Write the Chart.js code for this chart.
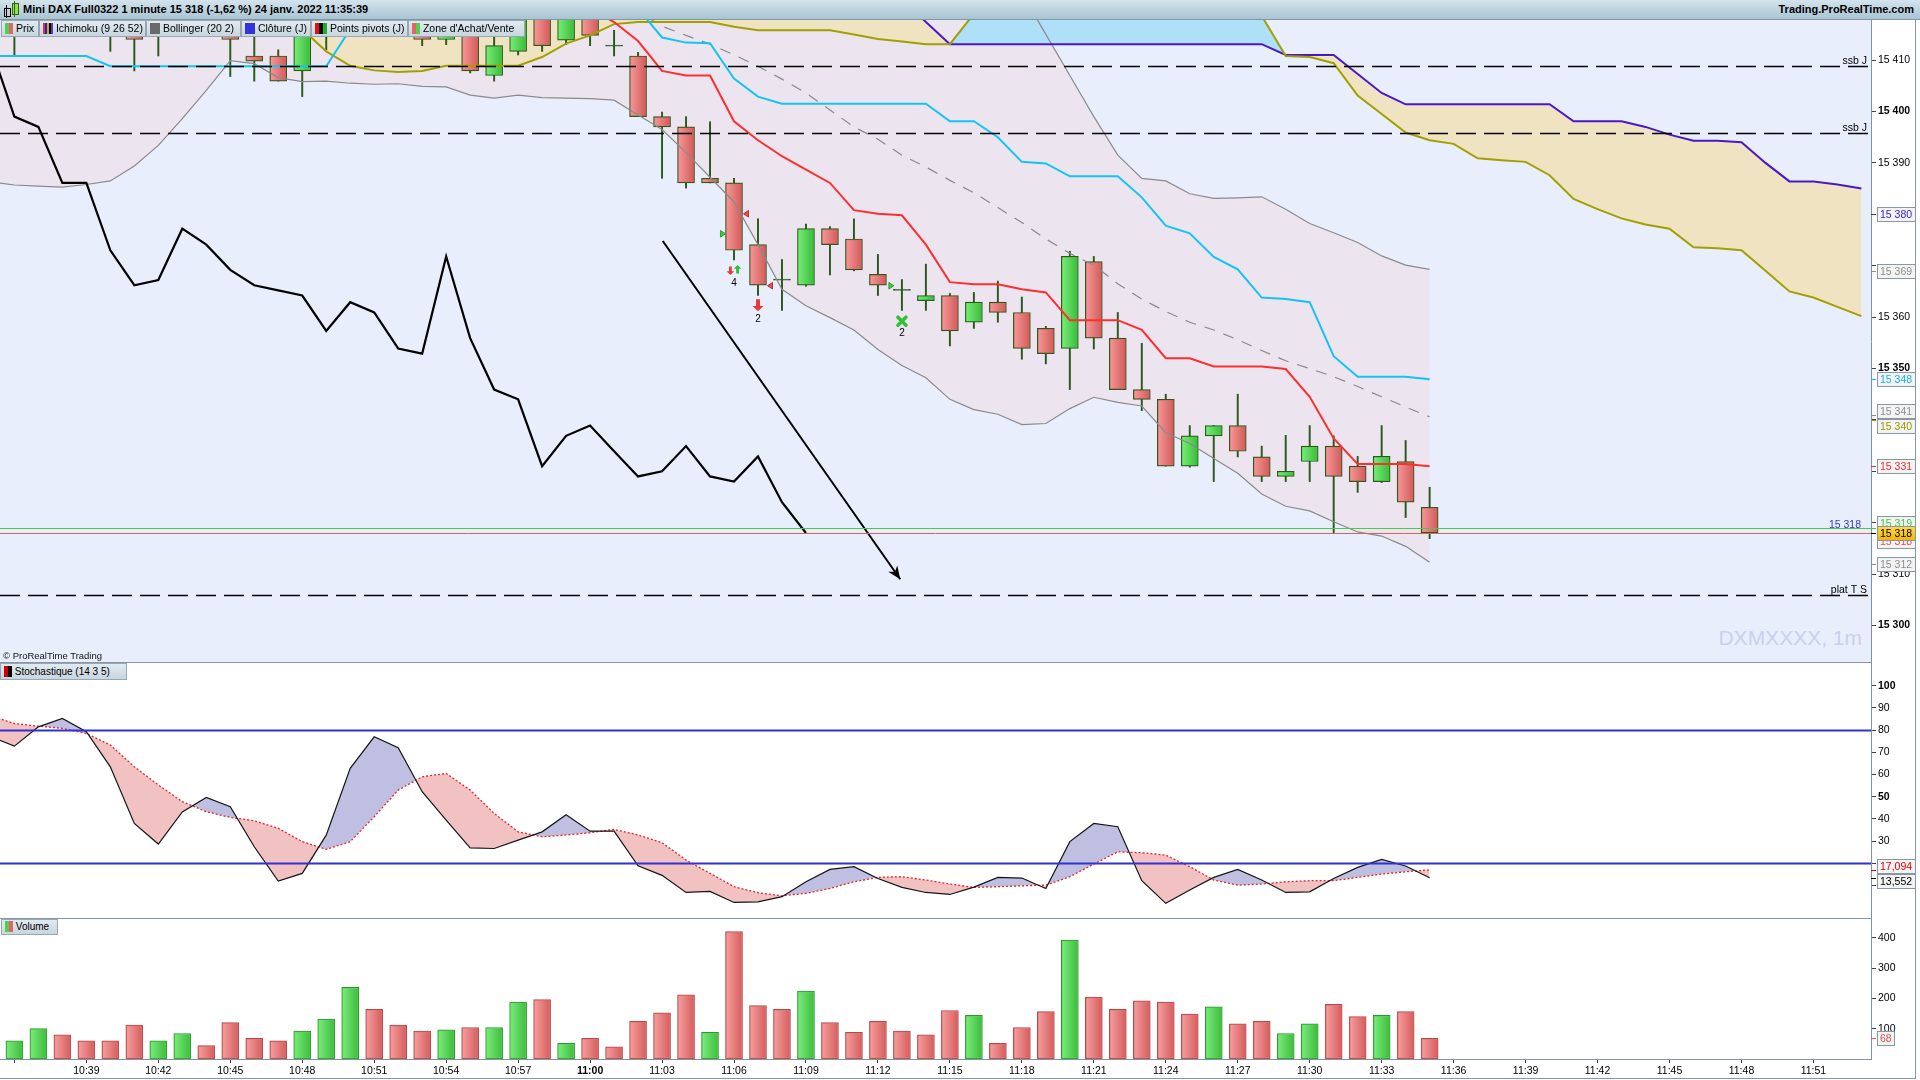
<!DOCTYPE html>
<html><head><meta charset="utf-8">
<script src="https://cdn.jsdelivr.net/npm/chart.js@4.4.1/dist/chart.umd.min.js"></script>
<style>
html,body{margin:0;padding:0;background:#fff;}
body{width:1920px;height:1080px;overflow:hidden;position:relative;font-family:"Liberation Sans",Arial,sans-serif;color:#000;}
.abs{position:absolute;}
#hdr{left:0;top:0;width:1920px;height:20px;background:linear-gradient(#d4e4ed,#a9c4d2);border-bottom:1px solid #7f98a8;box-sizing:border-box;}
#title{left:23px;top:3px;font-weight:bold;font-size:11px;white-space:nowrap;}
#site{right:6px;top:3px;font-weight:bold;font-size:11px;white-space:nowrap;}
.leg{position:absolute;height:17px;background:linear-gradient(#e2eaf0,#c8d6df);border:1px solid #97a8b5;box-sizing:border-box;font-size:10.5px;line-height:15px;white-space:nowrap;padding-left:3px;}
.ic{display:inline-block;width:4px;height:11px;vertical-align:-2px;}
.ic2{display:inline-block;width:10px;height:11px;vertical-align:-2px;}
canvas{display:block;}
</style></head>
<body>
<div class="abs" style="left:0;top:20px;width:1871px;height:642px;background:#e8eefc;"></div>
<div id="hdr" class="abs">
  <div class="abs" style="left:4px;top:8px;width:5px;height:7px;border:1px solid #000;background:#ccc;"></div>
  <div class="abs" style="left:6px;top:5px;width:1px;height:13px;background:#000;"></div>
  <div class="abs" style="left:12px;top:3px;width:5px;height:10px;border:1px solid #2b6a10;background:#8ee04a;"></div>
  <div class="abs" style="left:14px;top:1px;width:1px;height:16px;background:#2b6a10;"></div>
  <div id="title" class="abs">Mini DAX Full0322 1 minute 15 318 (-1,62 %) 24 janv. 2022 11:35:39</div>
  <div id="site" class="abs">Trading.ProRealTime.com</div>
</div>

<div class="abs" style="right:58px;top:626px;font-size:21px;color:#c6d2ec;white-space:nowrap;">DXMXXXX, 1m</div>

<div class="abs" style="left:0;top:20px;"><canvas id="cPrice" width="1920" height="642"></canvas></div>
<div class="abs" style="left:0;top:662px;"><canvas id="cStoch" width="1920" height="256"></canvas></div>
<div class="abs" style="left:0;top:918px;"><canvas id="cVol" width="1920" height="162"></canvas></div>

<!-- legends -->
<div class="leg" style="left:1px;top:20px;width:38px;"><span class="ic" style="background:#50d050"></span><span class="ic" style="background:#e46464"></span> Prix</div>
<div class="leg" style="left:39px;top:20px;width:107px;"><span class="ic" style="width:2px;background:#e03030"></span><span class="ic" style="width:2px;background:#2020e0"></span><span class="ic" style="width:2px;background:#c8b400"></span><span class="ic" style="width:2px;background:#000"></span><span class="ic" style="width:2px;background:#6a2bd0"></span> Ichimoku (9 26 52)</div>
<div class="leg" style="left:146px;top:20px;width:95px;"><span class="ic2" style="background:#6a6a6a"></span> Bollinger (20 2)</div>
<div class="leg" style="left:241px;top:20px;width:70px;"><span class="ic2" style="background:#3434dc"></span> Clôture (J)</div>
<div class="leg" style="left:311px;top:20px;width:97px;"><span class="ic" style="background:#e01010"></span><span class="ic" style="background:#000"></span><span class="ic" style="background:#20b020"></span> Points pivots (J)</div>
<div class="leg" style="left:408px;top:20px;width:117px;"><span class="ic" style="background:#e46464"></span><span class="ic" style="background:#50d050"></span> Zone d'Achat/Vente</div>

<div class="abs" style="left:3px;top:650px;font-size:9.5px;color:#111;white-space:nowrap;">© ProRealTime Trading</div>

<div class="leg" style="left:0;top:663px;width:127px;height:17px;font-size:10px;"><span class="ic" style="background:#d00000"></span><span class="ic" style="background:#000"></span> Stochastique (14 3 5)</div>
<div class="leg" style="left:1px;top:919px;width:57px;height:16px;font-size:10px;line-height:14px;"><span class="ic" style="background:#50d050"></span><span class="ic" style="background:#e46464"></span> Volume</div>

<!-- separators & frame -->
<div class="abs" style="left:0;top:662px;width:1871px;height:1px;background:#8397a8;"></div>
<div class="abs" style="left:0;top:918px;width:1871px;height:1px;background:#8397a8;"></div>
<div class="abs" style="left:1915px;top:20px;width:1px;height:1059px;background:#8397a8;"></div>
<div class="abs" style="left:0;top:1078px;width:1916px;height:1px;background:#8397a8;"></div>

<script>
// ---------------- DATA ----------------
const firstCandle = '10:36';
const open  = [15416,15420,15425,15420,15418,15418,15416,15419,15423,15420,
               15410.8,15410.8,15407.9,15416,15419,15426,15422,15419,15414,15420,
               15407.0,15411.7,15421,15413.9,15421,15412.9,15410.8,15399.0,15397.0,15387.0,
               15386.1,15374.1,15367.4,15366.2,15377.2,15375.2,15368.3,15365.4,15363.2,15364.2,
               15359.0,15362.9,15360.9,15357.8,15353.9,15370.8,15355.9,15345.9,15344.0,15331.0,
               15336.9,15338.9,15332.8,15329.0,15331.9,15334.9,15331.0,15328.0,15331.9,15323.0];
const high  = [15426,15428,15427,15423,15421,15421,15423,15425,15424,15422,
               15416,15412,15422,15424,15428,15428,15424,15420,15422,15421,
               15416,15422,15423,15423,15422,15415.8,15411.5,15399.9,15399.0,15398.0,
               15387.0,15379.1,15371.2,15378.1,15377.6,15379.1,15372.2,15367.3,15370.3,15364.6,
               15364.8,15367.0,15363.9,15358.2,15372.8,15371.8,15360.9,15354.9,15345.0,15338.9,
               15338.9,15345.0,15334.9,15337.0,15338.9,15336.9,15332.9,15338.9,15336.0,15326.9];
const low   = [15411.0,15416,15417,15416,15411.7,15407.9,15410.8,15416,15417,15406.8,
               15405.9,15405.9,15402.9,15412,15416,15419,15416,15412.8,15413,15407.5,
               15405.9,15411,15411.7,15413,15412.8,15410.8,15399.0,15387.0,15385.1,15386.1,
               15371.1,15364.2,15361.3,15366.0,15368.2,15369.0,15364.2,15361.3,15361.3,15354.4,
               15357.8,15359.0,15351.8,15350.9,15345.9,15353.8,15345.9,15341.8,15331.0,15330.8,
               15328.0,15332.8,15328.0,15328.0,15328.0,15317.9,15325.9,15327.8,15321.0,15316.9];
const close = [15421,15425,15419,15417,15416,15414.0,15420,15423,15420,15414.0,
               15409.8,15405.9,15420,15421,15426,15422,15418,15414,15420,15407.9,
               15412.8,15420,15412.8,15421,15414.8,15412.7,15399.0,15397.0,15386.1,15386.1,
               15373.0,15366.2,15367.2,15377.2,15374.1,15369.2,15366.2,15365.2,15364.2,15357.3,
               15362.9,15360.9,15353.9,15352.9,15371.8,15355.9,15345.9,15344.0,15331.0,15336.9,
               15338.9,15333.9,15329.0,15330.0,15334.9,15329.0,15328.0,15332.9,15324.0,15318.0];
const volume = [60,100,80,60,60,112,60,84,44,120, 68,60,92,132,236,164,112,92,96,104,
                104,188,196,52,68,40,124,152,212,88, 420,176,164,224,120,88,124,92,80,160,
                144,52,104,156,392,204,164,192,188,148, 172,116,124,84,116,180,140,144,156,68];
const volumeUp = [1,1,0,0,0,0,1,1,0,0, 0,0,1,1,1,0,0,0,1,0, 1,1,0,1,0,0,0,0,0,1,
                  0,0,0,1,0,0,0,0,0,0, 1,0,0,0,1,0,0,0,0,0, 1,0,0,1,1,0,0,1,0,0];

// Indicators start at index -1 (one bar before the first visible candle)
const indStart = -1;
const bbUpper = [15456,15455,15454,15452,15450,15448,15446,15443,15440,15436,15432,
                 15431,15432,15433,15434,15436,15437,15437,15438,15438,15438,
                 15438,15437,15437,15436,15436,15435,15439,15437,15438,15439,
                 15440,15443,15446,15445,15441,15437,15435,15432,15430,15429,
                 15427,15425,15423,15415,15407,15399,15391.5,15387.0,15386.5,15384.0,
                 15383.1,15383.2,15383.4,15381.0,15378.2,15376.4,15374.5,15371.9,15370.1,15369.3];
const bbMiddle = [15423,15423,15422,15422,15422,15421.5,15421,15421,15421,15421,15421,
                  15420.5,15420.5,15420.5,15421,15421,15421,15421.5,15421.5,15421.5,15421.5,
                  15421,15421,15420.5,15420.5,15420,15420,
                  15419.4,15416.6,15414.8,15413.1,15411,15408.8,15406.3,15403.6,15400.3,15397,
                  15394.6,15391.5,15389.2,15386.6,15384.2,15381.3,15378.4,15375.2,15372.4,15370.1,
                  15366.5,15363.5,15361.1,15359,15357.5,15355.6,15353.5,15351.5,15350.0,15348.4,
                  15346.5,15344.5,15342.5,15340.6];
const bbLower = [15386.3,15385.7,15385.5,15385.3,15385.8,15386.5,15389.4,15393.4,15398.6,15404.1,15409.9,
                 15409.3,15406.6,15405.8,15405.9,15405.5,15405.3,15405.4,15404.9,15404.8,15403.2,
                 15402.6,15403.2,15402.7,15402.6,15402.5,15402.2,15399.3,15396.5,15392.0,15387.2,
                 15382.4,15374.1,15365.4,15362.2,15359.9,15357.5,15353.7,15350.6,15348.2,15344.0,
                 15342.0,15341.1,15339.1,15339.3,15342.2,15344.4,15343.4,15342.7,15337.5,15335.4,
                 15332.5,15329.6,15325.6,15323.2,15322.3,15320.2,15318.2,15317.4,15315.4,15312.3];
const tenkan = [15420,15420,15420,15420,15420,15420,15420,15420,15420,15420,15420,15420,15420,
                15420,15420,15420,15420,15420,15420,15420,15420,15420,15420,15420,15420,15420,
                15417.4,15413.7,15407.9,15407.0,15407.0,15398.1,15394.4,15391.3,15388.7,15386.1,
                15380.8,15380.1,15379.8,15374.1,15366.8,15366.4,15366.4,15365.4,15364.8,15359.4,
                15359.4,15359.4,15357.5,15352.0,15352.0,15350.4,15350.4,15350.4,15349.9,15344.5,
                15336.4,15331.4,15331.4,15331.4,15331.0];
const kijun = [15410.8,15410.8,15410.8,15410.8,15410.8,
               15408.8,15408.8,15408.8,15408.8,15408.8,15408.8,15408.8,15408.8,15408.8,15408.8,
               15416,15420,15420,15420,15420,15420,15420,15420,15420,15420,15420,15420,15420,
               15414.4,15413.4,15413.3,15406.4,15402.9,
               15401.5,15401.5,15401.5,15401.5,15401.5,15401.5,15401.5,
               15398.1,15398.1,15395,15390.2,15389.9,15387.4,15387.4,15387.4,15383.3,15377.8,
               15376.3,15371.7,15369.3,15363.8,15363.5,15362.9,15352.4,15348.4,15348.4,15348.4,15347.9];
// Chikou span (lagging), starts at index -1
const chikou = [15412.7,15399.0,15397.0,15386.1,15386.1,15373.0,15366.2,15367.2,15377.2,15374.1,
                15369.2,15366.2,15365.2,15364.2,15357.3,15362.9,15360.9,15353.9,15352.9,15371.8,
                15355.9,15345.9,15344.0,15331.0,15336.9,15338.9,15333.9,15329.0,15330.0,15334.9,
                15329.0,15328.0,15332.9,15324.0,15318.0];
// Senkou spans (projected cloud), start at index -1, run to index 77
const senkouA = [15423,15423,15422.5,15422,15422,15421.5,15421,15421,15420.5,15420.5,15420,15420,15419.5,
                 15416,15411.7,15408.9,15408.0,15407.7,15407.9,15408.9,15408.9,15408.9,15408.9,
                 15410.6,15413.2,15414.8,15417.0,15417.4,15417.4,15417.4,15417.4,15416.5,15415.8,
                 15415.8,15415.8,15415.8,15415.0,15414.1,15413.6,15413.1,15413.1,15419,
                 15423,15423,15423,15423,15423,15423,15423,15423,15423,15423,15423,
                 15418.6,15410.8,15410.6,15409.4,15403.1,15399.5,15395.9,15394.4,15393.7,15390.9,
                 15390.5,15390.2,15387.6,15383,15381,15379.2,15378,15377.2,15373.6,15373.4,
                 15373,15369,15365,15363.8,15362,15360.2];
const senkouB = [15422,15422,15422,15422,15422,15422,15422,15422,15422,15422,15422,15422,15422,
                 15422,15422,15422,15422,15422,15422,15422,15422,15422,15422,15422,15422,15422,
                 15422,15422,15422,15422,15422,15422,15422,15422,15422,15422,15422,15422,15422,
                 15417.4,
                 15413.1,15413.1,15413.1,15413.1,15413.1,15413.1,15413.1,15413.1,15413.1,15413.1,15413.1,15413.1,15413.1,15413.1,
                 15411.0,15411.0,15411.0,15407.3,15403.6,
                 15401.4,15401.4,15401.4,15401.4,15401.4,15401.4,15401.4,
                 15398.1,15398.1,15398.1,15397,15395.5,15394.3,15394.3,15394,15390,15386.4,15386.4,15385.8,15385.0];
// Stochastic (14 3 5), start at index -1
const stochK = [77.2,72.8,81.5,85.3,79.3,63.5,38.0,28.7,43.2,49.7,45.5,
                27.5,12.0,15.5,32.7,62.8,77.0,72.1,52.3,39.5,27.0,
                26.7,30.5,34.2,41.9,34.5,34.5,18.9,14.6,6.9,7.4,
                2.4,2.7,5.0,11.7,17.3,18.5,13.2,9.2,6.9,6.0,
                9.3,13.7,13.4,8.7,29.8,38.0,36.5,12.2,2.0,8.0,
                13.7,17.3,12.5,6.9,7.2,13.2,18.2,21.8,18.8,13.552];
const stochD = [86.5,83.0,81.8,80.8,78.5,73.3,63.5,55.3,47.8,43.3,40.7,
                39.2,35.8,29.8,26.3,29.8,41.0,53.0,59.0,60.5,53.0,
                42.5,34.2,32.0,32.8,33.8,35.3,32.8,29.3,21.5,15.5,
                9.5,6.8,5.4,6.5,8.7,11.7,13.7,14.0,12.5,10.7,
                9.2,9.5,9.9,10.2,14.0,19.7,25.2,24.8,23.7,18.5,
                12.5,10.2,10.7,11.7,12.2,12.2,13.7,15.2,16.2,17.094];
// Levels
const ssbLevels = [15408.9, 15395.9];
const platLevel = 15305.9;
const lastHigh = 15319, lastPrice = 15318;
const stochLevels = [80, 20];
// Hand-drawn trend arrow (bar index, price)
const trendArrow = [{x:27.03, y:15374.8}, {x:36.93, y:15309.0}];
// Signal markers (bar index, price)
const signals = [
  {x:29.85, y:15369.0, kind:'arrowDown'}, {x:30.15, y:15369.3, kind:'arrowUp'}, {x:30, y:15366.6, kind:'text', text:'4'},
  {x:31, y:15362.3, kind:'arrowDownBig'}, {x:31, y:15359.6, kind:'text', text:'2'},
  {x:37, y:15359.2, kind:'cross'}, {x:37, y:15356.8, kind:'text', text:'2'},
  {x:29.54, y:15376.2, kind:'triRight'}, {x:30.5, y:15380.1, kind:'triLeft'},
  {x:31.5, y:15366.1, kind:'triLeft'}, {x:36.56, y:15366.1, kind:'triRight'}
];
// Axis ticks
const priceTicks = [15300,15310,15320,15330,15340,15350,15360,15370,15380,15390,15400,15410];
const priceBold = [15300,15350,15400];
const stochTicks = [10,20,30,40,50,60,70,80,90,100];
const stochBold = [50,100];
const volTicks = [100,200,300,400];
const timeLabels = ['10:36','10:39','10:42','10:45','10:48','10:51','10:54','10:57','11:00','11:03','11:06','11:09',
                    '11:12','11:15','11:18','11:21','11:24','11:27','11:30','11:33','11:36','11:39','11:42','11:45','11:48','11:51'];
const boldTime = '11:00';
// Right-axis value badges
const priceBadgeValues = [15380,15369,15348,15341,15340,15331,15319,15318,15312,15318];
const stochBadgeValues = [17.094, 13.552];
const volBadgeValues = [68];

// ---------------- STYLE / LAYOUT ----------------
const FONT = '"Liberation Sans", Arial, sans-serif';
Chart.defaults.font.family = FONT;
Chart.defaults.color = '#000';
const AXIS_W = 49;
const X_MIN = -0.6, X_MAX = 77.4;
const P_MIN = 15292.9, P_MAX = 15417.8;
const DARK = '#2C5A1C';

const toMin = s => { const [h,m] = s.split(':').map(Number); return h*60+m; };
const t0 = toMin(firstCandle);
const tickPos = timeLabels.map(l => toMin(l) - t0);
const pts = (arr, start) => arr.map((v,k) => ({x:start+k, y:v}));
const fmtPrice = v => { const s = String(Math.round(v)); return s.slice(0, s.length-3) + ' ' + s.slice(-3); };
const fmtDec = v => v.toFixed(3).replace('.', ',');

function yAxis(min, max, ticks, bold, fmt, badgeVals){
  return {
    type:'linear', position:'right', min, max,
    afterFit: s => { s.width = AXIS_W; s.paddingTop = 0; s.paddingBottom = 0; },
    afterBuildTicks: s => { s.ticks = ticks.map(v => ({value:v})); },
    ticks:{ padding:2, autoSkip:false,
      color: c => {
        if (!c.tick || !badgeVals) return '#000';
        const py = c.scale.getPixelForValue(c.tick.value);
        return badgeVals.some(b => Math.abs(c.scale.getPixelForValue(b) - py) < 7) ? 'rgba(0,0,0,0)' : '#000';
      },
      font: c => ({family:FONT, size:10.5, weight: (c.tick && bold.includes(c.tick.value)) ? 'bold' : 'normal'}),
      callback: v => fmt(v) },
    grid:{ drawOnChartArea:false, drawTicks:true, tickLength:5, color:'#3a4450', lineWidth:1 },
    border:{ display:true, color:'#7f93a5', width:1 }
  };
}
function xAxisHidden(){
  return { type:'linear', min:X_MIN, max:X_MAX, offset:false, display:false, grid:{offset:false} };
}

function overlay(cfg){
  return {
    id:'overlay',
    afterDatasetsDraw(chart){
      const {ctx, chartArea:a, scales:{x, y}} = chart;
      ctx.save();
      ctx.beginPath(); ctx.rect(a.left, a.top, a.width, a.height); ctx.clip();
      (cfg.hlines||[]).forEach(h => {
        const py = Math.round(y.getPixelForValue(h.value)) + 0.5;
        ctx.strokeStyle = h.color; ctx.lineWidth = h.width; ctx.setLineDash(h.dash || []);
        ctx.beginPath(); ctx.moveTo(a.left, py); ctx.lineTo(a.right, py); ctx.stroke();
        ctx.setLineDash([]);
        if (h.label){
          ctx.fillStyle = h.labelColor || '#000';
          ctx.font = '10.5px ' + FONT; ctx.textAlign = 'right'; ctx.textBaseline = 'alphabetic';
          ctx.fillText(h.label, a.right - (h.labelPad || 4), py - (h.labelLift || 3));
        }
      });
      (cfg.markers||[]).forEach(m => drawMarker(ctx, m, x.getPixelForValue(m.x), y.getPixelForValue(m.y)));
      if (cfg.arrow){
        const p0 = cfg.arrow[0], p1 = cfg.arrow[1];
        const x0 = x.getPixelForValue(p0.x), y0 = y.getPixelForValue(p0.y);
        const x1 = x.getPixelForValue(p1.x), y1 = y.getPixelForValue(p1.y);
        const ang = Math.atan2(y1-y0, x1-x0), L = 13, W = 5.5;
        ctx.fillStyle = '#000';
        ctx.beginPath();
        ctx.moveTo(x1, y1);
        ctx.lineTo(x1 - L*Math.cos(ang) + W*Math.sin(ang), y1 - L*Math.sin(ang) - W*Math.cos(ang));
        ctx.lineTo(x1 - L*0.7*Math.cos(ang), y1 - L*0.7*Math.sin(ang));
        ctx.lineTo(x1 - L*Math.cos(ang) - W*Math.sin(ang), y1 - L*Math.sin(ang) + W*Math.cos(ang));
        ctx.closePath(); ctx.fill();
      }
      ctx.restore();
    },
    afterDraw(chart){
      const {ctx, chartArea:a, scales:{y}} = chart;
      ctx.save();
      (cfg.badges||[]).forEach(b => {
        const py = y.getPixelForValue(b.value);
        const cy = Math.round(py + (b.nudge||0));
        ctx.strokeStyle = b.color; ctx.lineWidth = 1;
        ctx.beginPath(); ctx.moveTo(a.right, Math.round(py)+0.5); ctx.lineTo(a.right+5, Math.round(py)+0.5); ctx.stroke();
        ctx.font = '10.5px ' + FONT;
        const w = Math.ceil(ctx.measureText(b.text).width) + 5, h = 14;
        const x0 = a.right + 6.5, y0 = cy - 7 + 0.5;
        if (b.bg){
          const g = ctx.createLinearGradient(0, y0, 0, y0+h); g.addColorStop(0, '#ffd84a'); g.addColorStop(1, b.bg);
          ctx.fillStyle = g;
        } else ctx.fillStyle = '#f3f3f3';
        ctx.fillRect(x0, y0, w, h);
        ctx.strokeStyle = '#8797a4'; ctx.strokeRect(x0, y0, w, h);
        ctx.fillStyle = b.color; ctx.textAlign = 'left'; ctx.textBaseline = 'middle';
        ctx.fillText(b.text, x0 + 2.5, cy + 1);
      });
      ctx.restore();
    }
  };
}

function drawMarker(ctx, m, px, py){
  ctx.save();
  const RED = '#e83a3a', GREEN = '#2fbf2f';
  if (m.kind === 'arrowDown' || m.kind === 'arrowUp' || m.kind === 'arrowDownBig'){
    const big = m.kind === 'arrowDownBig';
    const s = big ? 12 : 8.5, hw = big ? 5.5 : 3.8, sw = big ? 2 : 1.4;
    const dir = m.kind === 'arrowUp' ? -1 : 1;
    const top = py - dir*s/2, tip = py + dir*s/2, neck = py + dir*s*0.05;
    ctx.fillStyle = m.kind === 'arrowUp' ? GREEN : RED;
    ctx.beginPath();
    ctx.moveTo(px-sw, top); ctx.lineTo(px+sw, top); ctx.lineTo(px+sw, neck); ctx.lineTo(px+hw, neck);
    ctx.lineTo(px, tip); ctx.lineTo(px-hw, neck); ctx.lineTo(px-sw, neck); ctx.closePath(); ctx.fill();
  } else if (m.kind === 'triRight' || m.kind === 'triLeft'){
    const d = m.kind === 'triRight' ? 1 : -1;
    ctx.fillStyle = d > 0 ? '#3ad43a' : '#f04848';
    ctx.strokeStyle = d > 0 ? '#1f8a1f' : '#a02020'; ctx.lineWidth = 0.8;
    ctx.beginPath(); ctx.moveTo(px - d*2.5, py - 3.3); ctx.lineTo(px + d*2.5, py); ctx.lineTo(px - d*2.5, py + 3.3); ctx.closePath();
    ctx.fill(); ctx.stroke();
  } else if (m.kind === 'cross'){
    ctx.strokeStyle = '#35c035'; ctx.lineWidth = 3.6; ctx.lineCap = 'round';
    ctx.beginPath(); ctx.moveTo(px-4, py-4); ctx.lineTo(px+4, py+4); ctx.moveTo(px+4, py-4); ctx.lineTo(px-4, py+4); ctx.stroke();
  } else if (m.kind === 'text'){
    ctx.fillStyle = '#000'; ctx.font = '10px ' + FONT; ctx.textAlign = 'center'; ctx.textBaseline = 'middle';
    ctx.fillText(m.text, px, py);
  }
  ctx.restore();
}

function shade(dsIndex, isUp, upCols, dnCols){
  return {
    id:'shade',
    afterDatasetDraw(chart, args){
      if (args.index !== dsIndex) return;
      const ctx = chart.ctx, a = chart.chartArea;
      ctx.save(); ctx.beginPath(); ctx.rect(a.left, a.top, a.width, a.height); ctx.clip();
      args.meta.data.forEach((el, k) => {
        const p = el.getProps(['x','y','base','width'], true);
        const top = Math.min(p.y, p.base), h = Math.abs(p.base - p.y);
        if (h < 3) return;
        const l = p.x - p.width/2, c = isUp(k) ? upCols : dnCols;
        const g = ctx.createLinearGradient(l, 0, l + p.width, 0);
        g.addColorStop(0, c[0]); g.addColorStop(1, c[1]);
        ctx.fillStyle = g; ctx.fillRect(l+1.2, top+1.2, p.width-2.4, h-2.4);
      });
      ctx.restore();
    }
  };
}

const commonOpts = {
  responsive:false, animation:false, events:[],
  layout:{padding:0, autoPadding:false},
};

// ---------------- PRICE CHART ----------------
const idx = open.map((_, k) => k);
const lineDS = (label, data, color, width, order, extra) => Object.assign({
  type:'line', label, data, borderColor:color, borderWidth:width, pointRadius:0, tension:0, fill:false, order, clip:0
}, extra || {});

new Chart(document.getElementById('cPrice'), {
  type:'bar',
  data:{ datasets:[
    lineDS('bbFillUp', pts(bbUpper, indStart), 'rgba(0,0,0,0)', 0, 20, {fill:{target:1, above:'#ece5f0', below:'#ece5f0'}}),
    lineDS('bbFillLo', pts(bbLower, indStart), 'rgba(0,0,0,0)', 0, 20),
    lineDS('cloudA', pts(senkouA, indStart), 'rgba(0,0,0,0)', 0, 19, {fill:{target:3, above:'#aee0f8', below:'#efe3c2'}}),
    lineDS('cloudB', pts(senkouB, indStart), 'rgba(0,0,0,0)', 0, 19),
    { type:'bar', label:'wicks', data: idx.map(k => ({x:k, y:[low[k], high[k]]})), backgroundColor:DARK,
      borderWidth:0, barThickness:1.3, grouped:false, order:8 },
    { type:'bar', label:'bodies', data: idx.map(k => ({x:k, y:[open[k], close[k]]})),
      backgroundColor: c => { const k = c.dataIndex; if (Math.abs(open[k]-close[k]) < 0.5) return DARK; return close[k] > open[k] ? '#55d455' : '#e46a6a'; },
      borderColor:DARK, borderWidth:1.2, borderSkipped:false, barThickness:17, grouped:false, order:7 },
    lineDS('bbUpper', pts(bbUpper, indStart), '#8a8a8a', 1.2, 4),
    lineDS('bbMiddle', pts(bbMiddle, indStart), '#8a8a8a', 1.2, 4, {borderDash:[11,9]}),
    lineDS('bbLower', pts(bbLower, indStart), '#8a8a8a', 1.2, 4),
    lineDS('ssa', pts(senkouA, indStart), '#a29f00', 2, 3),
    lineDS('ssb', pts(senkouB, indStart), '#4a18c8', 2, 3),
    lineDS('kijun', pts(kijun, indStart), '#14c3f4', 2, 2),
    lineDS('tenkan', pts(tenkan, indStart), '#ff2e2e', 2, 2),
    lineDS('chikou', pts(chikou, indStart), '#000000', 2.2, 1),
    lineDS('trend', trendArrow, '#000000', 2, 0)
  ]},
  options: Object.assign({}, commonOpts, {
    plugins:{ legend:{display:false}, tooltip:{enabled:false}, filler:{drawTime:'beforeDatasetsDraw', propagate:false} },
    scales:{ x:xAxisHidden(), y:yAxis(P_MIN, P_MAX, priceTicks, priceBold, fmtPrice, priceBadgeValues) }
  }),
  plugins:[
    shade(5, k => close[k] > open[k], ['#7aee7a','#38bb38'], ['#f59a9a','#d45858']),
    overlay({
      hlines:[
        {value:ssbLevels[0], color:'#000', width:1.3, dash:[20,8], label:'ssb J'},
        {value:ssbLevels[1], color:'#000', width:1.3, dash:[20,8], label:'ssb J'},
        {value:platLevel, color:'#000', width:1.3, dash:[20,8], label:'plat T S'},
        {value:lastHigh, color:'#46cc46', width:1.2, label:fmtPrice(lastPrice), labelColor:'#3636cc', labelPad:10, labelLift:1},
        {value:lastPrice, color:'#e06060', width:1}
      ],
      markers: signals,
      arrow: trendArrow,
      badges:[
        {value:priceBadgeValues[0], text:fmtPrice(priceBadgeValues[0]), color:'#3b22d2'},
        {value:priceBadgeValues[1], text:fmtPrice(priceBadgeValues[1]), color:'#8e8e8e'},
        {value:priceBadgeValues[2], text:fmtPrice(priceBadgeValues[2]), color:'#13b5ec'},
        {value:priceBadgeValues[3], text:fmtPrice(priceBadgeValues[3]), color:'#8e8e8e', nudge:-4},
        {value:priceBadgeValues[4], text:fmtPrice(priceBadgeValues[4]), color:'#9c9a00', nudge:6},
        {value:priceBadgeValues[5], text:fmtPrice(priceBadgeValues[5]), color:'#f02c2c'},
        {value:priceBadgeValues[6], text:fmtPrice(priceBadgeValues[6]), color:'#3ccb3c', nudge:-5},
        {value:priceBadgeValues[7], text:fmtPrice(priceBadgeValues[7]), color:'#e85050', nudge:8},
        {value:priceBadgeValues[8], text:fmtPrice(priceBadgeValues[8]), color:'#8e8e8e'},
        {value:priceBadgeValues[9], text:fmtPrice(priceBadgeValues[9]), color:'#000', bg:'#f2b400'}
      ]
    })
  ]
});

// ---------------- STOCHASTIC ----------------
new Chart(document.getElementById('cStoch'), {
  type:'line',
  data:{ datasets:[
    lineDS('%K', pts(stochK, indStart), '#151515', 1.2, 1, {fill:{target:1, above:'#bfc0e1', below:'#f2c1c1'}}),
    lineDS('%D', pts(stochD, indStart), '#e02626', 1.3, 2, {borderDash:[2,2]})
  ]},
  options: Object.assign({}, commonOpts, {
    plugins:{ legend:{display:false}, tooltip:{enabled:false}, filler:{drawTime:'beforeDatasetsDraw', propagate:false} },
    scales:{ x:xAxisHidden(), y:yAxis(-4.6, 110.7, stochTicks, stochBold, v => String(v), stochBadgeValues) }
  }),
  plugins:[ overlay({
    hlines: stochLevels.map(v => ({value:v, color:'#3131d6', width:2.2})),
    badges:[
      {value:stochBadgeValues[0], text:fmtDec(stochBadgeValues[0]), color:'#e00000', nudge:-3.5},
      {value:stochBadgeValues[1], text:fmtDec(stochBadgeValues[1]), color:'#000', nudge:3.5}
    ]
  }) ]
});

// ---------------- VOLUME ----------------
new Chart(document.getElementById('cVol'), {
  type:'bar',
  data:{ datasets:[
    { label:'Volume', data: idx.map(k => ({x:k, y:volume[k]})),
      backgroundColor: c => volumeUp[c.dataIndex] ? '#5cd65c' : '#e87474',
      borderColor: c => volumeUp[c.dataIndex] ? '#2e962e' : '#b34a4a',
      borderWidth:1, borderSkipped:false, barThickness:17, grouped:false }
  ]},
  options: Object.assign({}, commonOpts, {
    plugins:{ legend:{display:false}, tooltip:{enabled:false} },
    scales:{
      x:{ type:'linear', min:X_MIN, max:X_MAX, offset:false, position:'bottom',
          afterFit: s => { s.height = 21; s.paddingLeft = 0; s.paddingRight = 0; },
          afterBuildTicks: s => { s.ticks = tickPos.map(v => ({value:v})); },
          ticks:{ autoSkip:false, maxRotation:0, minRotation:0, color:'#000', padding:2,
            font: c => ({family:FONT, size:10.5, weight: (c.tick && c.tick.value === toMin(boldTime)-t0) ? 'bold' : 'normal'}),
            callback: (v, i) => i === 0 ? '' : timeLabels[tickPos.indexOf(v)] },
          grid:{ drawOnChartArea:false, drawTicks:true, tickLength:4, color:'#3a4450', offset:false },
          border:{ display:true, color:'#7f93a5' } },
      y: yAxis(0, 465, volTicks, [], v => String(v), null)
    }
  }),
  plugins:[
    shade(0, k => volumeUp[k] === 1, ['#7cec7c','#3cbc3c'], ['#f5a0a0','#d65c5c']),
    overlay({ badges:[ {value:volBadgeValues[0], text:String(volBadgeValues[0]), color:'#e05050'} ] })
  ]
});
</script>
</body></html>
